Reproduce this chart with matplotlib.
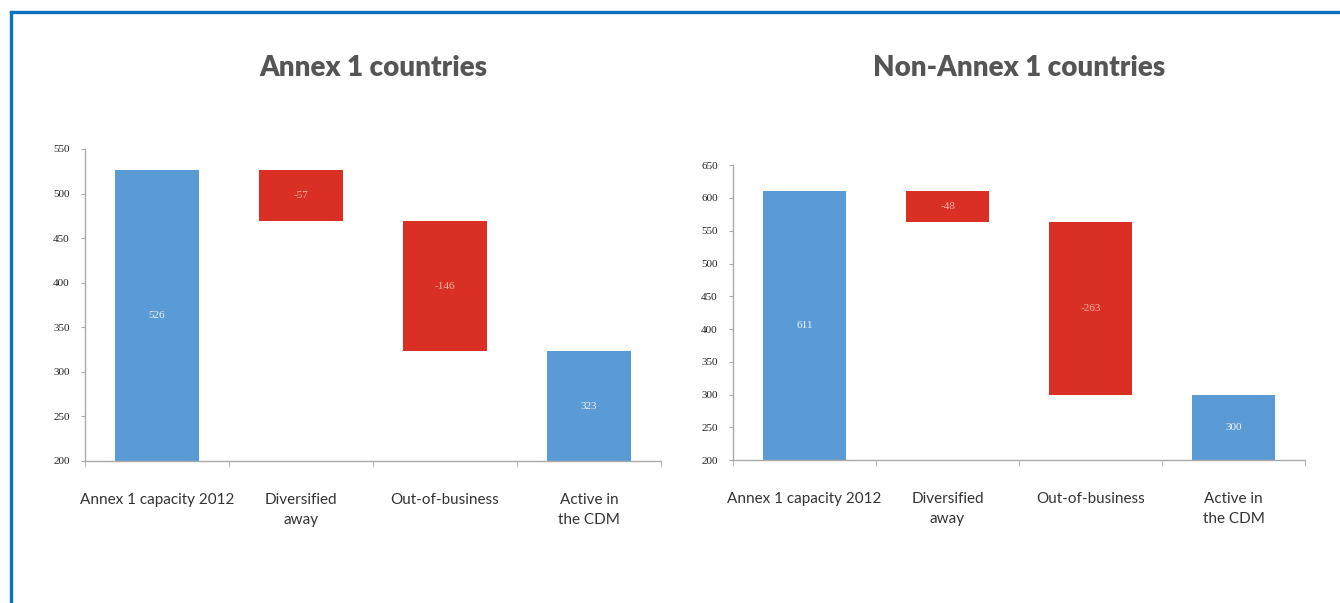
import matplotlib
matplotlib.use("Agg")
import matplotlib.pyplot as plt
from matplotlib.lines import Line2D
import numpy as np

categories = ["Annex 1 capacity 2012", "Diversified\naway", "Out-of-business", "Active in\nthe CDM"]

annex_title = "Annex 1 countries"
annex_values = [526, -57, -146, 323]
annex_ticks = [200, 250, 300, 350, 400, 450, 500, 550]

non_title = "Non-Annex 1 countries"
non_values = [611, -48, -263, 300]
non_ticks = [200, 250, 300, 350, 400, 450, 500, 550, 600, 650]

BLUE = "#5B9BD5"
RED = "#DA2F25"
AXIS = "#AAAAAA"

fig = plt.figure(figsize=(13.4, 6.03), dpi=100)
fig.patch.set_facecolor("white")


def waterfall(ax, values, ticks, title):
    base = ticks[0]
    x = np.arange(len(values))
    running = 0
    for i, v in enumerate(values):
        if i == 0 or i == len(values) - 1:
            total = v
            ax.bar(i, total - base, bottom=base, width=0.585, color=BLUE, zorder=2)
            ax.text(i, (total + base) / 2, f"{v}", ha="center", va="center",
                    color="#EEF3FA", fontsize=8, family="Liberation Serif", zorder=3)
            running = v
        else:
            top = running
            bottom = running + v
            ax.bar(i, top - bottom, bottom=bottom, width=0.585, color=RED, zorder=2)
            ax.text(i, (top + bottom) / 2, f"{v}", ha="center", va="center",
                    color="#F6B6A6", fontsize=8, family="Liberation Serif", zorder=3)
            running = bottom
    ax.set_xlim(-0.5, len(values) - 0.5)
    ax.set_ylim(ticks[0], ticks[-1])
    ax.set_yticks(ticks)
    ax.set_yticklabels([str(t) for t in ticks], family="Liberation Serif",
                       fontsize=8, color="#222222")
    ax.set_xticks(x)
    ax.set_xticklabels(categories, family="Lato", fontsize=11, color="#333333",
                       linespacing=1.55, va="top")
    ax.tick_params(axis="x", which="major", length=0, pad=23)
    ax.set_xticks(np.arange(-0.5, len(values), 1.0), minor=True)
    ax.tick_params(axis="x", which="minor", length=4, color=AXIS, direction="out")
    ax.tick_params(axis="y", length=3, color=AXIS, pad=8)
    for s in ["top", "right"]:
        ax.spines[s].set_visible(False)
    for s in ["left", "bottom"]:
        ax.spines[s].set_color(AXIS)
        ax.spines[s].set_linewidth(1.0)
    ax.set_facecolor("white")


ax1 = fig.add_axes([0.0634, 0.2355, 0.430, 0.5175])
waterfall(ax1, annex_values, annex_ticks, annex_title)
ax2 = fig.add_axes([0.547, 0.237, 0.427, 0.489])
waterfall(ax2, non_values, non_ticks, non_title)

fig.text(0.0634 + 0.430 / 2, 0.887, annex_title, ha="center", va="center",
         fontsize=20, fontweight="heavy", color="#555555", family="Lato")
fig.text(0.547 + 0.427 / 2, 0.887, non_title, ha="center", va="center",
         fontsize=20, fontweight="heavy", color="#555555", family="Lato")

# blue frame (top and left edges)
fig.add_artist(Line2D([11 / 1340, 1.0], [1 - 12 / 603, 1 - 12 / 603],
                      transform=fig.transFigure, color="#0B72C2", linewidth=2.4))
fig.add_artist(Line2D([11 / 1340, 11 / 1340], [0.0, 1 - 12 / 603],
                      transform=fig.transFigure, color="#0B72C2", linewidth=2.4))

fig.savefig("out.png", dpi=100, facecolor="white")
